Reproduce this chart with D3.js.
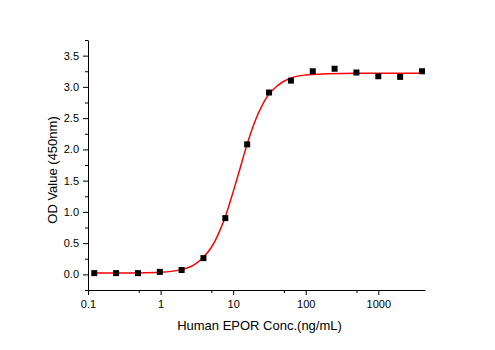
<!DOCTYPE html>
<html>
<head>
<meta charset="utf-8">
<script src="https://cdn.jsdelivr.net/npm/d3@7"></script>
<style>
  body { margin: 0; background: #fff; }
  #chart-container { width: 495px; height: 350px; }
  .od-axis text { font-family: "Liberation Sans", Arial, sans-serif; font-size: 11px; fill: #000; }
  .od-axis path, .od-axis line { stroke: #000; stroke-width: 1; }
  .od-title { font-family: "Liberation Sans", Arial, sans-serif; font-size: 13px; fill: #000; }
</style>
</head>
<body>
<div id="chart-container"></div>
<script>
//data - measured points
var concValues = [0.122, 0.244, 0.488, 0.977, 1.95, 3.9, 7.8, 15.6, 31.25, 62.5, 125, 250, 500, 1000, 2000, 4000];
var odValues = [0.02, 0.02, 0.02, 0.04, 0.07, 0.26, 0.9, 2.08, 2.91, 3.1, 3.25, 3.29, 3.23, 3.17, 3.16, 3.25];

//fitted curve
var fitConc = [0.122, 0.5, 1, 2, 3, 4, 5, 6, 7, 8, 10, 12, 15, 20, 25, 30, 40, 50, 70, 100, 200, 500, 4000];
var fitOd = [0.02, 0.024, 0.033, 0.08, 0.165, 0.29, 0.43, 0.6, 0.78, 0.96, 1.32, 1.63, 2.02, 2.45, 2.7, 2.86, 3.01, 3.09, 3.16, 3.19, 3.21, 3.22, 3.22];

//ticks
var xTickValues = [0.1, 1, 10, 100, 1000];
var xTickLabels = ['0.1', '1', '10', '100', '1000'];
var xMinorTicks = [0.5, 5, 50, 500];
var yTickValues = [0, 0.5, 1, 1.5, 2, 2.5, 3, 3.5];
var yMinorTicks = [-0.25, 0.25, 0.75, 1.25, 1.75, 2.25, 2.75, 3.25, 3.75];

var xTitle = 'Human EPOR Conc.(ng/mL)',
    yTitle = 'OD Value (450nm)';

//containers
var chartContainer = d3.select('#chart-container'),
    chartSvg,
    chartG;

var outerW = 495,
    outerH = 350,
    margin = {left: 88, right: 70, top: 40, bottom: 60},
    w = outerW - margin.left - margin.right,
    h = outerH - margin.top - margin.bottom;

var xScale = d3.scaleLog().domain([0.1, 4400]).range([0, w]),
    yScale = d3.scaleLinear().domain([-0.25, 3.75]).range([h, 0]);

function buildChart() {
    chartSvg = chartContainer.append('svg')
        .attr('width', outerW)
        .attr('height', outerH);

    chartG = chartSvg.append('g')
        .attr('transform', 'translate(' + margin.left + ', ' + margin.top + ')');

    //minor ticks first so the major axis draws on top
    chartG.append('g')
        .attr('class', 'od-axis')
        .attr('transform', 'translate(0,' + h + ')')
        .call(d3.axisBottom(xScale).tickValues(xMinorTicks).tickSize(3).tickFormat(''))
        .select('.domain').remove();

    chartG.append('g')
        .attr('class', 'od-axis')
        .call(d3.axisLeft(yScale).tickValues(yMinorTicks).tickSize(3).tickFormat(''))
        .select('.domain').remove();

    var xAxis = d3.axisBottom(xScale)
        .tickValues(xTickValues)
        .tickSize(5)
        .tickSizeOuter(0)
        .tickPadding(5)
        .tickFormat(function(d, i) { return xTickLabels[i]; });

    chartG.append('g')
        .attr('class', 'od-axis')
        .attr('transform', 'translate(0,' + h + ')')
        .call(xAxis);

    var yAxis = d3.axisLeft(yScale)
        .tickValues(yTickValues)
        .tickSize(5)
        .tickSizeOuter(0)
        .tickPadding(4)
        .tickFormat(d3.format('.1f'));

    chartG.append('g')
        .attr('class', 'od-axis')
        .call(yAxis);

    //fit line
    var fitData = fitConc.map(function(c, i) { return {c: c, v: fitOd[i]}; });
    var line = d3.line()
        .x(function(d) { return xScale(d.c); })
        .y(function(d) { return yScale(d.v); })
        .curve(d3.curveMonotoneX);

    chartG.append('path')
        .datum(fitData)
        .attr('fill', 'none')
        .attr('stroke', '#ff0000')
        .attr('stroke-width', 1.5)
        .attr('d', line);

    //points
    var pointData = concValues.map(function(c, i) { return {c: c, v: odValues[i]}; });
    var sq = 6;
    chartG.selectAll('.od-point')
        .data(pointData)
        .enter()
        .append('rect')
        .attr('class', 'od-point')
        .attr('x', function(d) { return xScale(d.c) - sq / 2; })
        .attr('y', function(d) { return yScale(d.v) - sq / 2; })
        .attr('width', sq)
        .attr('height', sq)
        .attr('fill', '#000');

    //titles
    chartG.append('text')
        .attr('class', 'od-title')
        .attr('x', w / 2 + 3)
        .attr('y', h + 40)
        .attr('text-anchor', 'middle')
        .text(xTitle);

    chartG.append('text')
        .attr('class', 'od-title')
        .attr('transform', 'translate(-31,' + (h / 2 + 5) + ') rotate(-90)')
        .attr('text-anchor', 'middle')
        .text(yTitle);
}

buildChart();
</script>
</body>
</html>
